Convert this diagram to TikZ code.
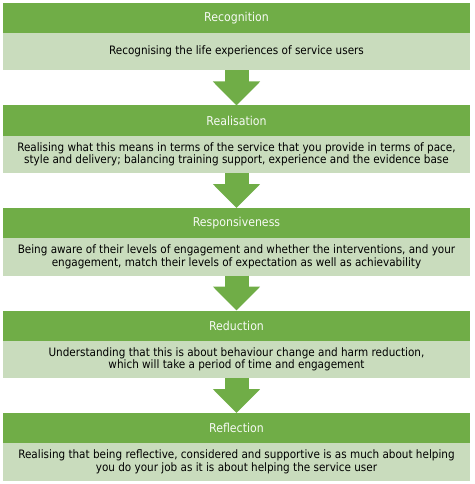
\documentclass[tikz,border=0pt]{standalone}
\usepackage{fontspec}
\setmainfont{DejaVu Sans Condensed}
\usetikzlibrary{positioning}
\usetikzlibrary{arrows.meta}
\definecolor{headgreen}{HTML}{70AD47}
\definecolor{bodygreen}{HTML}{C9DCBD}

\begin{document}
\begin{tikzpicture}[x=1pt, y=1pt,
	head/.style={fill=headgreen, text=white!94!headgreen, minimum width=467pt, minimum height=30pt, inner sep=0pt, outer sep=0pt, font=\fontsize{12.2}{13}\selectfont},
	body/.style={fill=bodygreen, text=black, minimum width=467pt, minimum height=37.5pt, inner sep=0pt, outer sep=0pt, align=center, font=\fontsize{11.6}{12.2}\selectfont},
	flow/.style={draw=headgreen, line width=24pt, -{Triangle[width=46pt, length=24pt, fill=headgreen]}}]
	\useasboundingbox (0,0) rectangle (474,-484);

	\node[head] (recog) at (236.5,-18) {Recognition};
	\node[body, below=0pt of recog] (recogtext) {Recognising the life experiences of service users};

	\node[head, below=35pt of recogtext] (real) {Realisation};
	\node[body, below=0pt of real] (realtext) {Realising what this means in terms of the service that you provide in terms of pace,\\ style and delivery; balancing training support, experience and the evidence base};

	\node[head, below=35pt of realtext] (resp) {Responsiveness};
	\node[body, below=0pt of resp] (resptext) {Being aware of their levels of engagement and whether the interventions, and your\\ engagement, match their levels of expectation as well as achievability};

	\node[head, below=35pt of resptext] (reduc) {Reduction};
	\node[body, below=0pt of reduc] (reductext) {Understanding that this is about behaviour change and harm reduction,\\ which will take a period of time and engagement};

	\node[head, below=35pt of reductext] (refl) {Reflection};
	\node[body, below=0pt of refl] (refltext) {Realising that being reflective, considered and supportive is as much about helping\\ you do your job as it is about helping the service user};

	\draw[flow] (recogtext) -- (real);
	\draw[flow] (realtext) -- (resp);
	\draw[flow] (resptext) -- (reduc);
	\draw[flow] (reductext) -- (refl);
\end{tikzpicture}
\end{document}
